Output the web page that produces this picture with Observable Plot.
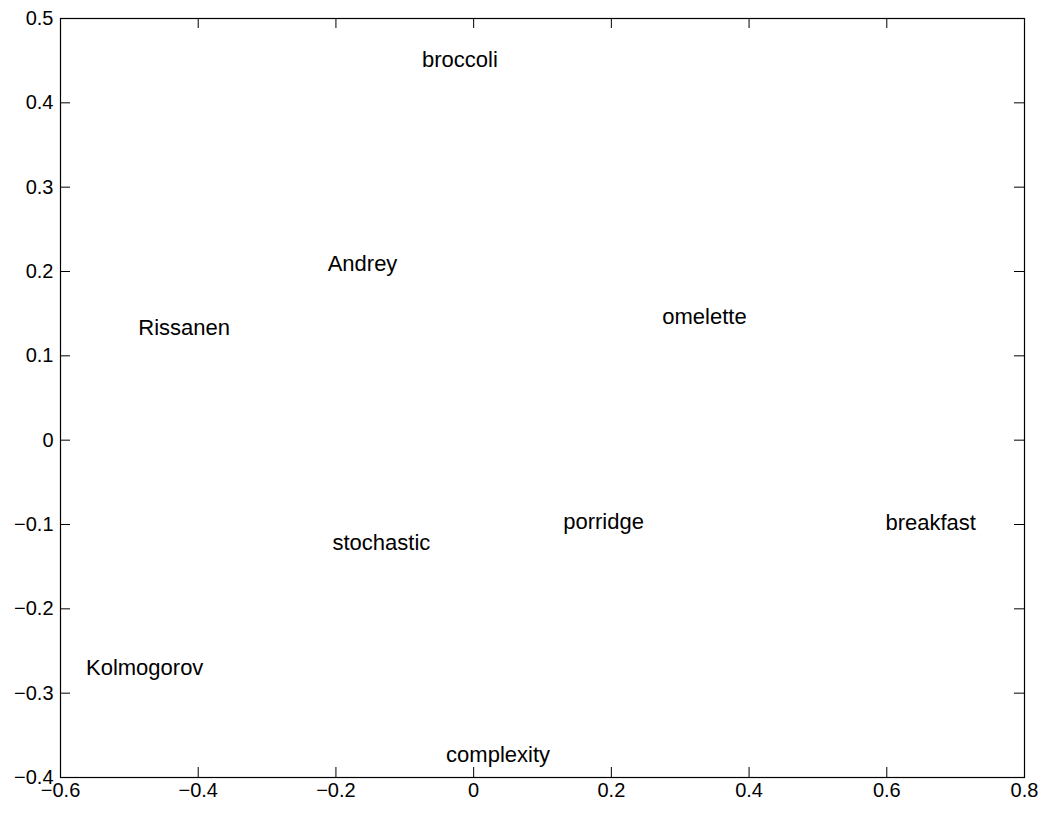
<!DOCTYPE html>
<html>
<head>
<meta charset="utf-8">
<script src="https://cdn.jsdelivr.net/npm/d3@7"></script>
<script src="https://cdn.jsdelivr.net/npm/@observablehq/plot@0.6"></script>
<style>
  html, body { margin: 0; padding: 0; background: #fff; }
  #chart { width: 1045px; height: 813px; }
</style>
</head>
<body>
<div id="chart"></div>
<script>
const words = ["broccoli", "Andrey", "Rissanen", "omelette", "porridge", "breakfast", "stochastic", "Kolmogorov", "complexity"];
const xValues = [-0.075, -0.212, -0.487, 0.274, 0.130, 0.598, -0.205, -0.563, -0.040];
const yValues = [0.451, 0.2095, 0.133, 0.146, -0.097, -0.098, -0.122, -0.270, -0.3735];
const xTicks = [-0.6, -0.4, -0.2, 0, 0.2, 0.4, 0.6, 0.8];
const yTicks = [-0.4, -0.3, -0.2, -0.1, 0, 0.1, 0.2, 0.3, 0.4, 0.5];
const xDomain = [-0.6, 0.8];
const yDomain = [-0.4, 0.5];

const points = words.map((w, i) => ({word: w, x: xValues[i], y: yValues[i]}));

const W = 1045, H = 813;
const mL = 60, mR = 21, mT = 18, mB = 36;
const innerW = W - mL - mR, innerH = H - mT - mB;
const tickLen = 10;
// tick length converted to data units
const tx = tickLen * (xDomain[1] - xDomain[0]) / innerW;
const ty = tickLen * (yDomain[1] - yDomain[0]) / innerH;
const fmt = d => d === 0 ? "0" : d3.format(".1f")(d);

const chart = Plot.plot({
  width: W,
  height: H,
  marginLeft: mL,
  marginRight: mR,
  marginTop: mT,
  marginBottom: mB,
  style: {fontFamily: "'Liberation Sans', Arial, Helvetica, sans-serif", fontSize: "20px", color: "black", background: "white"},
  x: {domain: xDomain, ticks: xTicks, tickFormat: fmt},
  y: {domain: yDomain, ticks: yTicks, tickFormat: fmt},
  marks: [
    Plot.axisX(xTicks, {anchor: "bottom", tickSize: 0, tickPadding: 5, tickFormat: fmt, fontSize: 20, label: null}),
    Plot.axisY(yTicks, {anchor: "left", tickSize: 0, tickPadding: 7, tickFormat: fmt, fontSize: 20, label: null}),
    // inward ticks on all four sides
    Plot.ruleX(xTicks, {x: d => d, y1: yDomain[0], y2: yDomain[0] + ty, stroke: "black"}),
    Plot.ruleX(xTicks, {x: d => d, y1: yDomain[1] - ty, y2: yDomain[1], stroke: "black"}),
    Plot.ruleY(yTicks, {y: d => d, x1: xDomain[0], x2: xDomain[0] + tx, stroke: "black"}),
    Plot.ruleY(yTicks, {y: d => d, x1: xDomain[1] - tx, x2: xDomain[1], stroke: "black"}),
    Plot.frame({stroke: "black", strokeWidth: 1.2}),
    Plot.text(points, {x: "x", y: "y", text: "word", textAnchor: "start", lineAnchor: "middle", fontSize: 22, fill: "black"})
  ]
});
document.getElementById("chart").appendChild(chart);
</script>
</body>
</html>
